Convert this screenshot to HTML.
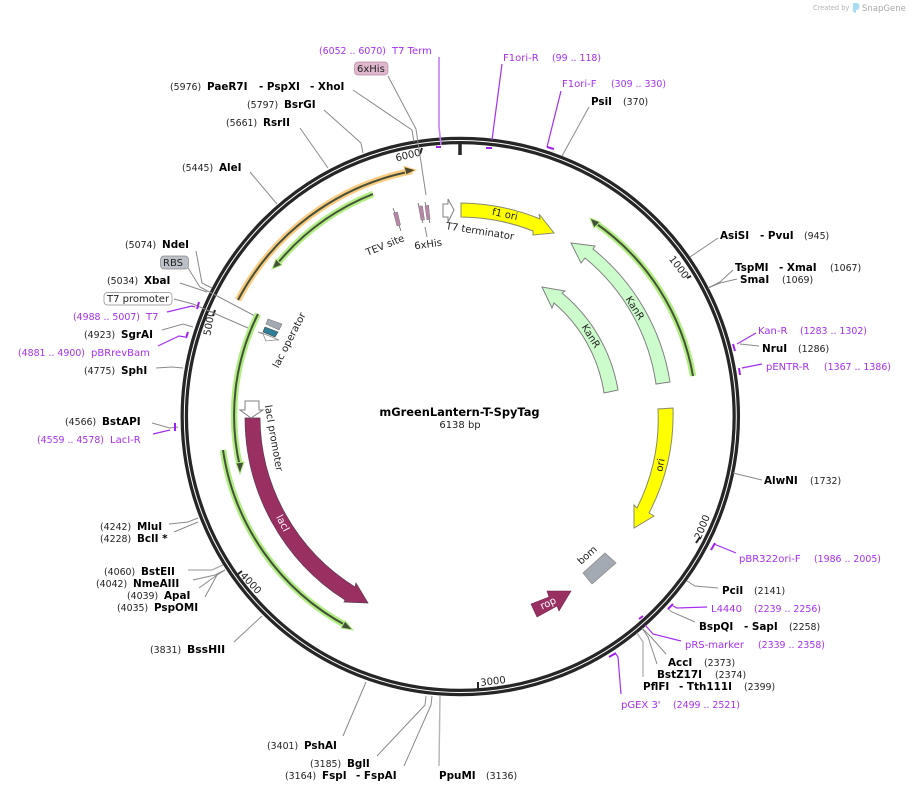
<!DOCTYPE html>
<html><head><meta charset="utf-8"><style>
html,body{margin:0;padding:0;background:#fff;width:910px;height:792px;overflow:hidden}
svg{display:block}
text{font-family:"DejaVu Sans",sans-serif;font-size:9.4px;fill:#222}
.b{font-weight:bold;font-size:10.4px;fill:#000}
.p{font-size:10px;fill:#a62ff0}
.n{font-size:9.4px;fill:#a62ff0}
.f{font-size:10px;fill:#222;text-anchor:middle}
.l{fill:none;stroke:#8a8a8a;stroke-width:1}
.q{fill:none;stroke:#a62ff0;stroke-width:1.2}
.t{fill:none;stroke:#a020f0;stroke-width:2}
.h{fill:none;stroke-width:6.5}
.d{fill:none;stroke:#45503a;stroke-width:2}
</style></head><body>
<svg width="910" height="792" viewBox="0 0 910 792" xmlns="http://www.w3.org/2000/svg">
<text x="813" y="10" style="font-size:6.6px;fill:#b5b5b5">Created by</text>
<path d="M853 3h3q3.500 0 3.500 3.500t-3.500 3.500v3l-3 -1z" fill="#a8dcf5"/>
<text x="862" y="11" style="font-size:8.5px;fill:#a8a8a8">SnapGene</text>

<circle cx="460.3" cy="416.5" r="276" fill="none" stroke="#262626" stroke-width="7.5"/>
<circle cx="460.3" cy="416.5" r="276" fill="none" stroke="#fff" stroke-width="1"/>

<!-- ticks -->
<g stroke="#262626" fill="none">
<path d="M460 143V155" stroke-width="3.5"/>
<path d="M691 276L687 278" stroke-width="2"/>
<path d="M700 537L696 543" stroke-width="2"/>
<path d="M478 682V690" stroke-width="2"/>
<path d="M237 575L242 571" stroke-width="2"/>
<path d="M215 310L213 316" stroke-width="2"/>
<path d="M422 148L420 154" stroke-width="2"/>
</g>
<text class="f" transform="translate(679 267) rotate(53)" y="3.5">1000</text>
<text class="f" transform="translate(702 527) rotate(-68)" y="3.5">2000</text>
<text class="f" transform="translate(493 681) rotate(-7)" y="3.5">3000</text>
<text class="f" transform="translate(251 583) rotate(47)" y="3.5">4000</text>
<text class="f" transform="translate(209 323) rotate(-80)" y="3.5">5000</text>
<text class="f" transform="translate(408 155) rotate(-14)" y="3.5">6000</text>

<!-- gray connectors -->
<polyline class="l" points="388,76 416,129 426,195"/>
<polyline class="l" points="425,227 427,237"/>
<polyline class="l" points="353,90 412,130 414,142"/>
<polyline class="l" points="324,110 361,143 363,153"/>
<polyline class="l" points="300,128 328,168"/>
<polyline class="l" points="250,172 277,204"/>
<polyline class="l" points="196,251 202,283 212,288"/>
<polyline class="l" points="188,268 200,287 255,316"/>
<polyline class="l" points="180,283 207,292"/>
<polyline class="l" points="174,299 193,304 248,328"/>
<polyline class="l" points="162,330 183,324 193,327"/>
<polyline class="l" points="156,368 172,367 183,368"/>
<polyline class="l" points="152,423 170,428 178,427"/>
<polyline class="l" points="589,107 562,156"/>
<polyline class="l" points="718,238 690,257"/>
<polyline class="l" points="733,270 720,282 708,288"/>
<polyline class="l" points="737,279 720,283 708,288"/>
<polyline class="l" points="759,346 740,344"/>
<polyline class="l" points="733,473 762,480"/>
<polyline class="l" points="718,588 695,586 687,581"/>
<polyline class="l" points="695,622 672,612 668,609"/>
<polyline class="l" points="666,654 651,637 643,629"/>
<polyline class="l" points="657,664 648,637 642,628"/>
<polyline class="l" points="643,677 643,642 637,633" style="stroke:#b5b5b5;stroke-width:1.4"/>
<polyline class="l" points="169,524 188,522 198,518"/>
<polyline class="l" points="174,532 198,522"/>
<polyline class="l" points="188,570 212,570 223,565" style="stroke:#aaa;stroke-width:1.3"/>
<polyline class="l" points="193,580 215,575 225,570"/>
<polyline class="l" points="199,588 217,575 225,570"/>
<polyline class="l" points="205,597 217,575 225,570"/>
<polyline class="l" points="234,642 262,616"/>
<polyline class="l" points="343,736 366,682"/>
<polyline class="l" points="377,756 425,705 426,696"/>
<polyline class="l" points="404,766 431,705 432,696"/>
<polyline class="l" points="439,766 440,696" style="stroke:#b5b5b5;stroke-width:1.4"/>

<!-- primers -->
<polyline class="q" points="439,57 439,127 441,145" style="stroke:#c77ff5;stroke-width:1.6"/><path class="t" d="M436 147H441"/>
<polyline class="q" points="502,64 492,140"/><path class="t" d="M486 148H492"/>
<polyline class="q" points="561,91 547,147"/><path class="t" d="M547 147L554 149"/>
<polyline class="q" points="756,333 737,344"/><path class="t" d="M733 344L735 351"/>
<polyline class="q" points="762,364 742,368"/><path class="t" d="M739 368L740 375"/>
<polyline class="q" points="736,553 714,544"/><path class="t" d="M715 543L711 550"/>
<polyline class="q" points="707,607 677,608 673,606"/><path class="t" d="M673 604L668 609"/>
<polyline class="q" points="681,641 653,634 645,625"/><path class="t" d="M643 616L639 619"/>
<polyline class="q" points="621,694 618,657 615,653"/><path class="t" d="M616 653L609 657"/>
<polyline class="q" points="167,312 192,306 195,307"/><path class="t" d="M199 302L197 309"/>
<polyline class="q" points="158,346 179,336 185,337"/><path class="t" d="M188 332L186 338"/>
<polyline class="q" points="153,434 170,430"/><path class="t" d="M175 423V431"/>

<!-- thin arrows -->
<path class="h" stroke="#fbcb80" d="M238 300A250 250 0 0 1 412 171"/>
<path class="d" d="M238 300A250 250 0 0 1 410 171.5"/>
<path d="M416 170L404 166.5L406 175Z" fill="#4a4a30" stroke="#fbcb80" stroke-width="1"/>

<path class="h" stroke="#b0ee82" d="M373 194A238 238 0 0 0 277 264"/>
<path class="d" d="M373 194A238 238 0 0 0 277 264"/>
<path d="M272 269L282 265L276 259Z" fill="#45503a" stroke="#b0ee82" stroke-width="1"/>

<path class="h" stroke="#b0ee82" d="M693 376A236 236 0 0 0 594 222"/>
<path class="d" d="M693 376A236 236 0 0 0 594 222"/>
<path d="M590 218L594 228L600 222Z" fill="#45503a" stroke="#b0ee82" stroke-width="1"/>

<path class="h" stroke="#b0ee82" d="M258 314A227 227 0 0 0 240 467"/>
<path class="d" d="M258 314A227 227 0 0 0 240 467"/>
<path d="M240 474L236 463L244 462Z" fill="#45503a" stroke="#b0ee82" stroke-width="1"/>

<path class="h" stroke="#b0ee82" d="M223 450A239 239 0 0 0 347 626"/>
<path class="d" d="M223 450A239 239 0 0 0 347 626"/>
<path d="M353 630L341 628L345 621Z" fill="#45503a" stroke="#b0ee82" stroke-width="1"/>

<!-- large features -->
<path d="M461 203A213 213 0 0 1 540 219L539 214L554 233L533 235L533 231A199 199 0 0 0 461 217Z" fill="#ffff00" stroke="#8a8a6a" stroke-width="1"/>
<text class="f" transform="translate(505 214) rotate(12)" y="3.5">f1 ori</text>

<path d="M670 382A213 213 0 0 0 593 249L595 246L571 243L581 263L585 258A199 199 0 0 1 656 384Z" fill="#ccfccc" stroke="#808080" stroke-width="1"/>
<text class="f" transform="translate(635 308) rotate(58)" y="3.5">KanR</text>

<path d="M618 390A160 160 0 0 0 562 293L565 291L542 287L552 308L554 303A146 146 0 0 1 604 393Z" fill="#ccfccc" stroke="#808080" stroke-width="1"/>
<text class="f" transform="translate(591 336) rotate(58)" y="3.5">KanR</text>

<path d="M673 408A213 213 0 0 1 649 513L654 516L634 528L634 505L637 508A198 198 0 0 0 658 409Z" fill="#ffff00" stroke="#8a8a6a" stroke-width="1"/>
<text class="f" transform="translate(660 465) rotate(-80)" y="3.5">ori</text>

<path d="M583 573L605 553L616 563L592 584Z" fill="#a3aab3" stroke="#8a8a8a" stroke-width=".7"/>
<text class="f" transform="translate(587 555) rotate(-42)" y="3.5">bom</text>

<path d="M531 604L549 597L547 591L571 591L559 611L557 606L537 617Z" fill="#9a2f62" stroke="#70204a" stroke-width=".6"/>
<text class="f" transform="translate(548 603) rotate(-25)" y="3.5" style="fill:#fff">rop</text>

<path d="M245 418A216 216 0 0 0 345 600L344 602L368 603L356 583L355 587A201 201 0 0 1 260 418Z" fill="#9a2f62" stroke="#5a3a50" stroke-width=".7"/>
<text class="f" transform="translate(283 523) rotate(62)" y="3.5" style="fill:#fff">lacI</text>

<path d="M245 401H259V410H263L251 418L240 410H245Z" fill="#fff" stroke="#808080" stroke-width="1"/>
<text class="f" transform="translate(274 438) rotate(80)" y="3.5">lacI promoter</text>

<path d="M268 319L282 324L279 330L266 324Z" fill="#a3aab3" stroke="#777" stroke-width=".6"/>
<path d="M265 327L278 332L275 337L263 332Z" fill="#2e7f97" stroke="#444" stroke-width=".6"/>
<path d="M258 332L262 333L279 340L275 340L266 341L263 334Z" fill="#fff" stroke="#888" stroke-width=".8"/>
<text class="f" transform="translate(289 340) rotate(-63)" y="3.5">lac operator</text>

<path d="M443 204H448V199L454 210L448 222V217H443Z" fill="#fff" stroke="#808080" stroke-width="1"/>
<text class="f" transform="translate(480 231) rotate(9)" y="3.5">T7 terminator</text>

<g stroke="#555" stroke-width=".7" fill="none">
<path d="M393 208L401 231"/><path d="M418 203L423 223"/><path d="M425 202L430 223"/>
</g>
<path d="M393.500 213L397.500 212L400.500 225L397 226Z" fill="#b985a8" stroke="#777" stroke-width=".5"/>
<path d="M418.500 206L422.500 206L424.500 220L421 220Z" fill="#b985a8" stroke="#777" stroke-width=".5"/>
<path d="M425 206L428.500 205L430 219L427 220Z" fill="#b985a8" stroke="#777" stroke-width=".5"/>
<text class="f" transform="translate(385 245) rotate(-22)" y="3.5">TEV site</text>
<text class="f" transform="translate(428 244) rotate(-8)" y="3.5">6xHis</text>

<!-- boxes -->
<rect x="354.5" y="62" width="33.5" height="13" rx="3.5" fill="#e0b8cd" stroke="#b98aa5" stroke-width=".7"/>
<text x="357" y="72" style="font-size:10px">6xHis</text>
<rect x="160.5" y="256" width="28" height="13" rx="3.5" fill="#bcc0c8" stroke="#8a8a8a" stroke-width=".7"/>
<text x="163" y="266" style="font-size:10px">RBS</text>
<rect x="104" y="292.500" width="68" height="12.500" rx="3.5" fill="#fff" stroke="#8a8a8a" stroke-width=".7"/>
<text x="107" y="302" style="font-size:10px">T7 promoter</text>

<!-- center -->
<text x="459.500" y="416" class="b" text-anchor="middle" style="font-size:11.4px">mGreenLantern-T-SpyTag</text>
<text x="460" y="428" text-anchor="middle" style="font-size:10px">6138 bp</text>

<!-- labels -->
<text class="n" x="319" y="54">(6052 .. 6070)</text><text class="p" x="392" y="54">T7 Term</text>
<text x="170" y="90">(5976)</text><text class="b" x="207" y="90">PaeR7I</text><text class="b" x="259" y="90">- PspXI</text><text class="b" x="310" y="90">- XhoI</text>
<text x="247" y="108">(5797)</text><text class="b" x="284" y="108">BsrGI</text>
<text x="226" y="126">(5661)</text><text class="b" x="263" y="126">RsrII</text>
<text x="182" y="171">(5445)</text><text class="b" x="219" y="171">AleI</text>
<text x="125" y="248">(5074)</text><text class="b" x="162" y="248">NdeI</text>
<text x="107" y="284">(5034)</text><text class="b" x="144" y="284">XbaI</text>
<text class="n" x="73" y="320">(4988 .. 5007)</text><text class="p" x="146" y="320">T7</text>
<text x="84" y="338">(4923)</text><text class="b" x="121" y="338">SgrAI</text>
<text class="n" x="18" y="356">(4881 .. 4900)</text><text class="p" x="91" y="356">pBRrevBam</text>
<text x="84" y="374">(4775)</text><text class="b" x="121" y="374">SphI</text>
<text x="65" y="425">(4566)</text><text class="b" x="102" y="425">BstAPI</text>
<text class="n" x="37" y="443">(4559 .. 4578)</text><text class="p" x="110" y="443">LacI-R</text>
<text x="100" y="530">(4242)</text><text class="b" x="137" y="530">MluI</text>
<text x="100" y="542">(4228)</text><text class="b" x="137" y="542">BclI *</text>
<text x="104" y="575">(4060)</text><text class="b" x="141" y="575">BstEII</text>
<text x="96" y="587">(4042)</text><text class="b" x="133" y="587">NmeAIII</text>
<text x="127" y="599">(4039)</text><text class="b" x="164" y="599">ApaI</text>
<text x="117" y="611">(4035)</text><text class="b" x="154" y="611">PspOMI</text>
<text x="150" y="653">(3831)</text><text class="b" x="187" y="653" style="font-size:10.8px">BssHII</text>
<text x="267" y="749">(3401)</text><text class="b" x="304" y="749">PshAI</text>
<text x="310" y="767">(3185)</text><text class="b" x="347" y="767">BglI</text>
<text x="285" y="779">(3164)</text><text class="b" x="322" y="779">FspI</text><text class="b" x="356" y="779">- FspAI</text>
<text class="b" x="439" y="779">PpuMI</text><text x="486" y="779">(3136)</text>
<text class="p" x="503" y="61">F1ori-R</text><text class="n" x="552" y="61">(99 .. 118)</text>
<text class="p" x="562" y="87">F1ori-F</text><text class="n" x="611" y="87">(309 .. 330)</text>
<text class="b" x="591" y="105">PsiI</text><text x="623" y="105">(370)</text>
<text class="b" x="720" y="239">AsiSI</text><text class="b" x="760" y="239">- PvuI</text><text x="804" y="239">(945)</text>
<text class="b" x="735" y="271">TspMI</text><text class="b" x="779" y="271">- XmaI</text><text x="830" y="271">(1067)</text>
<text class="b" x="740" y="283">SmaI</text><text x="782" y="283">(1069)</text>
<text class="p" x="758" y="334">Kan-R</text><text class="n" x="800" y="334">(1283 .. 1302)</text>
<text class="b" x="762" y="352">NruI</text><text x="798" y="352">(1286)</text>
<text class="p" x="766" y="370">pENTR-R</text><text class="n" x="824" y="370">(1367 .. 1386)</text>
<text class="b" x="764" y="484">AlwNI</text><text x="810" y="484">(1732)</text>
<text class="p" x="739" y="562">pBR322ori-F</text><text class="n" x="814" y="562">(1986 .. 2005)</text>
<text class="b" x="722" y="594">PciI</text><text x="754" y="594">(2141)</text>
<text class="p" x="711" y="612">L4440</text><text class="n" x="754" y="612">(2239 .. 2256)</text>
<text class="b" x="699" y="630">BspQI</text><text class="b" x="744" y="630">- SapI</text><text x="789" y="630">(2258)</text>
<text class="p" x="685" y="648">pRS-marker</text><text class="n" x="758" y="648">(2339 .. 2358)</text>
<text class="b" x="668" y="666">AccI</text><text x="704" y="666">(2373)</text>
<text class="b" x="657" y="678">BstZ17I</text><text x="715" y="678">(2374)</text>
<text class="b" x="643" y="690">PflFI</text><text class="b" x="679" y="690">- Tth111I</text><text x="744" y="690">(2399)</text>
<text class="p" x="621" y="708">pGEX 3'</text><text class="n" x="673" y="708">(2499 .. 2521)</text>
</svg>
</body></html>
